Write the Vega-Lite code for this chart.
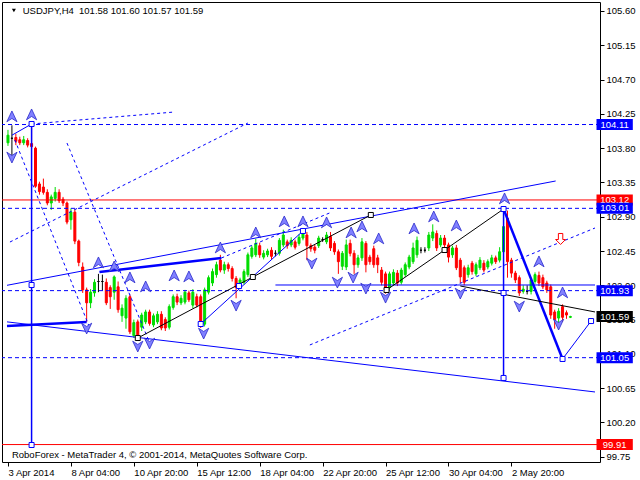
{
"$schema":"https://vega.github.io/schema/vega-lite/v6.json",
"width":598,"height":460,
"autosize":{"type":"none"},
"padding":{"left":2,"top":2,"right":40,"bottom":18},
"background":"white",
"config":{"view":{"stroke":"#000000","strokeWidth":1},"font":"Liberation Sans","axis":{"labelFont":"Liberation Sans","labelFontSize":9.5,"labelColor":"#000000","tickColor":"#000000","tickSize":4,"domain":false,"grid":false,"labelOverlap":false}},
"datasets":{
"candles":[
{"i":0,"o":103.87,"h":104.04,"l":103.83,"c":103.97},
{"i":1,"o":103.93,"h":104.10,"l":103.70,"c":103.93},
{"i":2,"o":103.94,"h":103.99,"l":103.84,"c":103.89},
{"i":3,"o":103.91,"h":103.95,"l":103.84,"c":103.87},
{"i":4,"o":103.87,"h":103.96,"l":103.84,"c":103.91},
{"i":5,"o":103.90,"h":103.93,"l":103.81,"c":103.84},
{"i":6,"o":103.86,"h":104.11,"l":103.79,"c":103.82},
{"i":7,"o":103.80,"h":103.82,"l":103.28,"c":103.30},
{"i":8,"o":103.33,"h":103.36,"l":103.19,"c":103.23},
{"i":9,"o":103.29,"h":103.40,"l":103.19,"c":103.22},
{"i":10,"o":103.22,"h":103.26,"l":103.05,"c":103.08},
{"i":11,"o":103.08,"h":103.19,"l":102.99,"c":103.16},
{"i":12,"o":103.14,"h":103.29,"l":103.10,"c":103.22},
{"i":13,"o":103.22,"h":103.26,"l":103.08,"c":103.11},
{"i":14,"o":103.13,"h":103.16,"l":103.04,"c":103.08},
{"i":15,"o":103.08,"h":103.10,"l":102.80,"c":102.83},
{"i":16,"o":102.86,"h":103.01,"l":102.73,"c":102.96},
{"i":17,"o":102.96,"h":103.00,"l":102.54,"c":102.58},
{"i":18,"o":102.58,"h":102.60,"l":102.25,"c":102.30},
{"i":19,"o":102.24,"h":102.30,"l":101.90,"c":101.94},
{"i":20,"o":101.94,"h":101.97,"l":101.52,"c":101.77},
{"i":21,"o":101.77,"h":101.95,"l":101.70,"c":101.91},
{"i":22,"o":101.90,"h":102.08,"l":101.85,"c":102.04},
{"i":23,"o":102.05,"h":102.15,"l":101.91,"c":102.05},
{"i":24,"o":102.05,"h":102.14,"l":101.93,"c":102.05},
{"i":25,"o":102.04,"h":102.09,"l":101.74,"c":101.77},
{"i":26,"o":101.97,"h":102.00,"l":101.69,"c":101.85},
{"i":27,"o":101.91,"h":102.13,"l":101.81,"c":102.11},
{"i":28,"o":101.98,"h":102.05,"l":101.64,"c":101.68},
{"i":29,"o":101.60,"h":101.75,"l":101.52,"c":101.70},
{"i":30,"o":101.57,"h":101.87,"l":101.43,"c":101.83},
{"i":31,"o":101.85,"h":101.88,"l":101.36,"c":101.39},
{"i":32,"o":101.34,"h":101.55,"l":101.31,"c":101.51},
{"i":33,"o":101.52,"h":101.55,"l":101.31,"c":101.34},
{"i":34,"o":101.45,"h":101.64,"l":101.40,"c":101.61},
{"i":35,"o":101.52,"h":101.68,"l":101.49,"c":101.65},
{"i":36,"o":101.65,"h":101.68,"l":101.47,"c":101.50},
{"i":37,"o":101.48,"h":101.63,"l":101.45,"c":101.60},
{"i":38,"o":101.52,"h":101.66,"l":101.49,"c":101.62},
{"i":39,"o":101.62,"h":101.66,"l":101.41,"c":101.44},
{"i":40,"o":101.55,"h":101.58,"l":101.40,"c":101.44},
{"i":41,"o":101.45,"h":101.75,"l":101.42,"c":101.72},
{"i":42,"o":101.71,"h":101.88,"l":101.68,"c":101.85},
{"i":43,"o":101.85,"h":101.89,"l":101.74,"c":101.78},
{"i":44,"o":101.77,"h":101.87,"l":101.74,"c":101.83},
{"i":45,"o":101.78,"h":101.94,"l":101.75,"c":101.91},
{"i":46,"o":101.90,"h":101.93,"l":101.78,"c":101.81},
{"i":47,"o":101.74,"h":101.95,"l":101.70,"c":101.91},
{"i":48,"o":101.85,"h":101.89,"l":101.71,"c":101.74},
{"i":49,"o":101.85,"h":101.88,"l":101.44,"c":101.50},
{"i":50,"o":101.49,"h":101.97,"l":101.46,"c":101.94},
{"i":51,"o":101.91,"h":102.13,"l":101.88,"c":102.10},
{"i":52,"o":102.03,"h":102.22,"l":101.99,"c":102.18},
{"i":53,"o":102.14,"h":102.31,"l":102.10,"c":102.27},
{"i":54,"o":102.33,"h":102.40,"l":102.17,"c":102.20},
{"i":55,"o":102.20,"h":102.31,"l":102.15,"c":102.27},
{"i":56,"o":102.27,"h":102.30,"l":102.18,"c":102.22},
{"i":57,"o":102.22,"h":102.25,"l":102.05,"c":102.09},
{"i":58,"o":102.09,"h":102.12,"l":101.83,"c":101.97},
{"i":59,"o":102.00,"h":102.10,"l":101.95,"c":102.07},
{"i":60,"o":102.04,"h":102.21,"l":102.01,"c":102.18},
{"i":61,"o":102.14,"h":102.43,"l":102.11,"c":102.40},
{"i":62,"o":102.38,"h":102.52,"l":102.35,"c":102.49},
{"i":63,"o":102.40,"h":102.61,"l":102.37,"c":102.55},
{"i":64,"o":102.52,"h":102.56,"l":102.36,"c":102.40},
{"i":65,"o":102.37,"h":102.46,"l":102.34,"c":102.42},
{"i":66,"o":102.40,"h":102.48,"l":102.37,"c":102.45},
{"i":67,"o":102.46,"h":102.50,"l":102.34,"c":102.38},
{"i":68,"o":102.42,"h":102.46,"l":102.38,"c":102.42},
{"i":69,"o":102.42,"h":102.62,"l":102.39,"c":102.59},
{"i":70,"o":102.53,"h":102.73,"l":102.50,"c":102.66},
{"i":71,"o":102.57,"h":102.60,"l":102.48,"c":102.52},
{"i":72,"o":102.53,"h":102.63,"l":102.50,"c":102.59},
{"i":73,"o":102.57,"h":102.60,"l":102.47,"c":102.50},
{"i":74,"o":102.55,"h":102.67,"l":102.52,"c":102.63},
{"i":75,"o":102.62,"h":102.74,"l":102.59,"c":102.70},
{"i":76,"o":102.66,"h":102.70,"l":102.33,"c":102.52},
{"i":77,"o":102.52,"h":102.55,"l":102.44,"c":102.48},
{"i":78,"o":102.50,"h":102.53,"l":102.42,"c":102.46},
{"i":79,"o":102.52,"h":102.65,"l":102.49,"c":102.62},
{"i":80,"o":102.60,"h":102.63,"l":102.57,"c":102.60},
{"i":81,"o":102.57,"h":102.70,"l":102.54,"c":102.66},
{"i":82,"o":102.64,"h":102.70,"l":102.45,"c":102.49},
{"i":83,"o":102.55,"h":102.58,"l":102.40,"c":102.44},
{"i":84,"o":102.44,"h":102.47,"l":102.15,"c":102.31},
{"i":85,"o":102.25,"h":102.45,"l":102.20,"c":102.42},
{"i":86,"o":102.24,"h":102.60,"l":102.20,"c":102.53},
{"i":87,"o":102.55,"h":102.60,"l":102.38,"c":102.42},
{"i":88,"o":102.42,"h":102.46,"l":102.15,"c":102.27},
{"i":89,"o":102.27,"h":102.40,"l":102.23,"c":102.36},
{"i":90,"o":102.36,"h":102.62,"l":102.32,"c":102.57},
{"i":91,"o":102.55,"h":102.58,"l":102.17,"c":102.27},
{"i":92,"o":102.37,"h":102.40,"l":102.27,"c":102.31},
{"i":93,"o":102.48,"h":102.52,"l":102.23,"c":102.27},
{"i":94,"o":102.36,"h":102.40,"l":102.16,"c":102.27},
{"i":95,"o":102.20,"h":102.24,"l":102.00,"c":102.04},
{"i":96,"o":102.15,"h":102.18,"l":101.89,"c":101.93},
{"i":97,"o":101.97,"h":102.18,"l":101.94,"c":102.15},
{"i":98,"o":102.03,"h":102.21,"l":102.00,"c":102.17},
{"i":99,"o":102.16,"h":102.20,"l":101.99,"c":102.03},
{"i":100,"o":102.04,"h":102.23,"l":102.01,"c":102.20},
{"i":101,"o":102.14,"h":102.30,"l":102.11,"c":102.27},
{"i":102,"o":102.24,"h":102.40,"l":102.21,"c":102.37},
{"i":103,"o":102.31,"h":102.56,"l":102.28,"c":102.49},
{"i":104,"o":102.40,"h":102.64,"l":102.36,"c":102.59},
{"i":105,"o":102.46,"h":102.50,"l":102.42,"c":102.46},
{"i":106,"o":102.46,"h":102.50,"l":102.43,"c":102.46},
{"i":107,"o":102.49,"h":102.70,"l":102.45,"c":102.66},
{"i":108,"o":102.62,"h":102.80,"l":102.58,"c":102.70},
{"i":109,"o":102.68,"h":102.72,"l":102.45,"c":102.49},
{"i":110,"o":102.53,"h":102.66,"l":102.50,"c":102.62},
{"i":111,"o":102.62,"h":102.66,"l":102.50,"c":102.53},
{"i":112,"o":102.53,"h":102.56,"l":102.30,"c":102.37},
{"i":113,"o":102.40,"h":102.52,"l":102.36,"c":102.49},
{"i":114,"o":102.49,"h":102.53,"l":102.20,"c":102.23},
{"i":115,"o":102.33,"h":102.36,"l":102.03,"c":102.11},
{"i":116,"o":102.23,"h":102.26,"l":102.00,"c":102.04},
{"i":117,"o":102.14,"h":102.27,"l":102.10,"c":102.23},
{"i":118,"o":102.29,"h":102.32,"l":102.14,"c":102.18},
{"i":119,"o":102.15,"h":102.30,"l":102.12,"c":102.27},
{"i":120,"o":102.23,"h":102.37,"l":102.20,"c":102.33},
{"i":121,"o":102.29,"h":102.33,"l":102.17,"c":102.20},
{"i":122,"o":102.24,"h":102.34,"l":102.21,"c":102.31},
{"i":123,"o":102.29,"h":102.40,"l":102.26,"c":102.36},
{"i":124,"o":102.36,"h":102.39,"l":102.28,"c":102.31},
{"i":125,"o":102.33,"h":102.50,"l":102.30,"c":102.44},
{"i":126,"o":102.44,"h":103.02,"l":102.41,"c":102.77},
{"i":127,"o":102.88,"h":102.98,"l":102.10,"c":102.31},
{"i":128,"o":102.33,"h":102.36,"l":102.10,"c":102.16},
{"i":129,"o":102.16,"h":102.19,"l":102.03,"c":102.07},
{"i":130,"o":102.10,"h":102.13,"l":101.86,"c":101.90},
{"i":131,"o":101.92,"h":102.00,"l":101.89,"c":101.95},
{"i":132,"o":101.92,"h":102.00,"l":101.88,"c":101.92},
{"i":133,"o":101.92,"h":102.10,"l":101.88,"c":102.07},
{"i":134,"o":102.05,"h":102.17,"l":102.02,"c":102.14},
{"i":135,"o":102.13,"h":102.18,"l":101.99,"c":102.03},
{"i":136,"o":102.10,"h":102.14,"l":101.95,"c":101.98},
{"i":137,"o":102.03,"h":102.06,"l":101.90,"c":101.94},
{"i":138,"o":101.98,"h":102.01,"l":101.56,"c":101.61},
{"i":139,"o":101.65,"h":101.68,"l":101.43,"c":101.55},
{"i":140,"o":101.57,"h":101.70,"l":101.46,"c":101.66},
{"i":141,"o":101.72,"h":101.75,"l":101.52,"c":101.58},
{"i":142,"o":101.64,"h":101.67,"l":101.56,"c":101.61},
{"i":143,"o":101.58,"h":101.60,"l":101.57,"c":101.59}
],
"blueLevels":[{"p":104.11},{"p":103.01},{"p":101.93},{"p":101.05}],
"redLevels":[{"p":103.12},{"p":99.91}],
"blackLevels":[{"p":101.59}],
"dashed":[
{"i":0.5,"p":102.568,"i2":61,"p2":104.130},
{"i":6,"p":104.117,"i2":42.25,"p2":104.274},
{"i":1.75,"p":103.907,"i2":20.5,"p2":101.478},
{"i":15,"p":103.867,"i2":36.25,"p2":101.217},
{"i":54.25,"p":102.358,"i2":81.75,"p2":102.949},
{"i":76.75,"p":101.217,"i2":149.25,"p2":102.752}
],
"thin":[
{"i":-0.25,"p":101.52,"i2":149.25,"p2":100.600},
{"i":-0.25,"p":102.00,"i2":139.25,"p2":103.369},
{"i":49,"p":101.492,"i2":75,"p2":102.713},
{"i":141,"p":101.033,"i2":148.25,"p2":101.531},
{"i":68,"p":102.004,"i2":149.25,"p2":102.004},
{"i":1,"p":103.97,"i2":6,"p2":104.117}
],
"thick":[
{"i":23.25,"p":102.175,"i2":54.25,"p2":102.358},
{"i":-0.25,"p":101.466,"i2":20,"p2":101.518},
{"i":126,"p":103.001,"i2":141,"p2":101.033}
],
"vert":[
{"i":126,"p":103.001,"i2":126,"p2":100.784},
{"i":6,"p":104.117,"i2":6,"p2":99.904}
],
"black":[
{"i":33,"p":101.308,"i2":62.25,"p2":102.109},
{"i":62.25,"p":102.109,"i2":92.25,"p2":102.923},
{"i":96.25,"p":101.938,"i2":111,"p2":102.463},
{"i":111,"p":102.463,"i2":126,"p2":103.001},
{"i":115,"p":101.991,"i2":149.25,"p2":101.650}
],
"up":[
{"i":1,"p":104.209},{"i":6,"p":104.235},{"i":23,"p":102.293},{"i":27,"p":102.240},{"i":31,"p":102.096},{"i":35,"p":101.978},{"i":42.25,"p":102.122},{"i":46,"p":102.109},{"i":54,"p":102.489},{"i":63,"p":102.686},{"i":70.25,"p":102.831},{"i":75,"p":102.831},{"i":81,"p":102.818},{"i":87.25,"p":102.686},{"i":90,"p":102.765},{"i":94.25,"p":102.608},{"i":103.25,"p":102.739},{"i":108.25,"p":102.896},{"i":114,"p":102.778},{"i":126.25,"p":103.133},{"i":135,"p":102.306},{"i":141,"p":101.899}
],
"down":[
{"i":1,"p":103.684},{"i":20,"p":101.440},{"i":33,"p":101.204},{"i":36,"p":101.243},{"i":49.75,"p":101.374},{"i":58,"p":101.741},{"i":77.25,"p":102.293},{"i":83.75,"p":102.043},{"i":87.75,"p":102.109},{"i":91,"p":101.965},{"i":96,"p":101.846},{"i":115,"p":101.899},{"i":130,"p":101.728},{"i":140,"p":101.492}
],
"blueSquares":[
{"i":6,"p":104.117},{"i":6,"p":102.004},{"i":6,"p":99.904},{"i":126,"p":103.001},{"i":126,"p":101.899},{"i":126,"p":100.784},{"i":141,"p":101.033},{"i":148.25,"p":101.531},{"i":75,"p":102.713},{"i":49,"p":101.492},{"i":58.75,"p":101.991}
],
"blackSquares":[
{"i":33,"p":101.308},{"i":62.25,"p":102.109},{"i":92.25,"p":102.923},{"i":96.25,"p":101.938},{"i":111,"p":102.463}
],
"redArrow":[{"i":140.5,"p":102.608}]
},
"layer":[
{"data":{"name":"candles"},"mark":{"type":"rule","strokeWidth":1,"clip":true},
 "encoding":{
 "x":{"field":"i","type":"quantitative","title":null,"scale":{"domain":[-0.25,149.25],"nice":false,"zero":false},
  "axis":{"orient":"bottom","values":[0,16,32,48,64,80,96,112,128],"tickCount":40,"labelExpr":"['3 Apr 2014','8 Apr 04:00','10 Apr 20:00','15 Apr 12:00','18 Apr 04:00','22 Apr 20:00','25 Apr 12:00','30 Apr 04:00','2 May 20:00'][round(datum.value/16)]","labelAlign":"left","labelBaseline":"top","labelPadding":1,"tickSize":4,"labelFlush":false,"labelOverlap":false,"title":null,"grid":false,"domain":false}},
 "y":{"field":"l","type":"quantitative","title":null,"scale":{"domain":[99.681,105.718],"nice":false,"zero":false},
  "axis":{"orient":"right","values":[105.60,105.15,104.70,104.25,103.80,103.35,102.90,102.45,102.00,101.55,101.10,100.65,100.20,99.75],"tickCount":40,"format":".2f","labelPadding":2,"labelBaseline":"middle","tickSize":4,"labelFlush":false,"labelOverlap":false,"title":null,"grid":false,"domain":false}},
 "y2":{"field":"h"},
 "color":{"condition":[{"test":"datum.c==datum.o","value":"#000000"},{"test":"datum.c>datum.o","value":"#00dd00"}],"value":"#ff0000"}}},
{"data":{"name":"candles"},"mark":{"type":"bar","width":2,"strokeWidth":1,"clip":true},
 "encoding":{"x":{"field":"i","type":"quantitative","title":null},"y":{"field":"o","type":"quantitative","title":null},"y2":{"field":"c"},
 "fill":{"condition":[{"test":"datum.c==datum.o","value":"#000000"},{"test":"datum.c>datum.o","value":"#00dd00"}],"value":"#ff0000"},
 "stroke":{"condition":[{"test":"datum.c==datum.o","value":"#000000"},{"test":"datum.c>datum.o","value":"#00dd00"}],"value":"#ff0000"}}},
{"data":{"name":"blueLevels"},"mark":{"type":"rule","color":"#0000ff","strokeWidth":1,"strokeDash":[4,3]},
 "encoding":{"y":{"field":"p","type":"quantitative","title":null}}},
{"data":{"name":"redLevels"},"mark":{"type":"rule","color":"#ff0000","strokeWidth":1},
 "encoding":{"y":{"field":"p","type":"quantitative","title":null}}},
{"data":{"name":"dashed"},"mark":{"type":"rule","color":"#0000ff","strokeWidth":1,"strokeDash":[3,3],"clip":true},
 "encoding":{"x":{"field":"i","type":"quantitative","title":null},"y":{"field":"p","type":"quantitative","title":null},"x2":{"field":"i2"},"y2":{"field":"p2"}}},
{"data":{"name":"thin"},"mark":{"type":"rule","color":"#0000ff","strokeWidth":1,"clip":true},
 "encoding":{"x":{"field":"i","type":"quantitative","title":null},"y":{"field":"p","type":"quantitative","title":null},"x2":{"field":"i2"},"y2":{"field":"p2"}}},
{"data":{"name":"thick"},"mark":{"type":"rule","color":"#0000ff","strokeWidth":2.5,"clip":true},
 "encoding":{"x":{"field":"i","type":"quantitative","title":null},"y":{"field":"p","type":"quantitative","title":null},"x2":{"field":"i2"},"y2":{"field":"p2"}}},
{"data":{"name":"vert"},"mark":{"type":"rule","color":"#0000ff","strokeWidth":1.5,"clip":true},
 "encoding":{"x":{"field":"i","type":"quantitative","title":null},"y":{"field":"p","type":"quantitative","title":null},"x2":{"field":"i2"},"y2":{"field":"p2"}}},
{"data":{"name":"black"},"mark":{"type":"rule","color":"#000000","strokeWidth":1,"clip":true},
 "encoding":{"x":{"field":"i","type":"quantitative","title":null},"y":{"field":"p","type":"quantitative","title":null},"x2":{"field":"i2"},"y2":{"field":"p2"}}},
{"data":{"name":"up"},"mark":{"type":"point","shape":"M0,-1L0.85,0.8L0,0.25L-0.85,0.8Z","size":144,"filled":true,"fill":"#8080ff","stroke":"#2a2acc","strokeWidth":0.8,"opacity":1},
 "encoding":{"x":{"field":"i","type":"quantitative","title":null},"y":{"field":"p","type":"quantitative","title":null}}},
{"data":{"name":"down"},"mark":{"type":"point","shape":"M0,1L0.85,-0.8L0,-0.25L-0.85,-0.8Z","size":144,"filled":true,"fill":"#8080ff","stroke":"#2a2acc","strokeWidth":0.8,"opacity":1},
 "encoding":{"x":{"field":"i","type":"quantitative","title":null},"y":{"field":"p","type":"quantitative","title":null}}},
{"data":{"name":"blueSquares"},"mark":{"type":"point","shape":"square","size":25,"filled":true,"fill":"#ffffff","stroke":"#0000ff","strokeWidth":1,"opacity":1},
 "encoding":{"x":{"field":"i","type":"quantitative","title":null},"y":{"field":"p","type":"quantitative","title":null}}},
{"data":{"name":"blackSquares"},"mark":{"type":"point","shape":"square","size":25,"filled":true,"fill":"#ffffff","stroke":"#000000","strokeWidth":1,"opacity":1},
 "encoding":{"x":{"field":"i","type":"quantitative","title":null},"y":{"field":"p","type":"quantitative","title":null}}},
{"data":{"name":"redArrow"},"mark":{"type":"point","shape":"M-0.4,-1H0.4V0.1H0.9L0,1L-0.9,0.1H-0.4Z","size":121,"filled":true,"fill":"#ffffff","stroke":"#ff0000","strokeWidth":1,"opacity":1},
 "encoding":{"x":{"field":"i","type":"quantitative","title":null},"y":{"field":"p","type":"quantitative","title":null}}},
{"data":{"values":[{"t":"USDJPY,H4\u00a0 101.58 101.60 101.57 101.59"}]},"mark":{"type":"text","align":"left","baseline":"middle","fontSize":9.5,"font":"Liberation Sans","color":"#000000"},
 "encoding":{"x":{"datum":3.75,"type":"quantitative","title":null},"y":{"datum":105.606,"type":"quantitative","title":null},"text":{"field":"t"}}},
{"data":{"values":[{"t":"v"}]},"mark":{"type":"point","shape":"triangle-down","size":16,"filled":true,"color":"#000000","opacity":1},
 "encoding":{"x":{"datum":1.5,"type":"quantitative","title":null},"y":{"datum":105.606,"type":"quantitative","title":null}}},
{"data":{"values":[{"t":"RoboForex - MetaTrader 4, © 2001-2014, MetaQuotes Software Corp."}]},"mark":{"type":"text","align":"left","baseline":"middle","fontSize":9.5,"font":"Liberation Sans","color":"#000000"},
 "encoding":{"x":{"datum":1,"type":"quantitative","title":null},"y":{"datum":99.773,"type":"quantitative","title":null},"text":{"field":"t"}}},
{"data":{"name":"redLevels"},"mark":{"type":"point","shape":"M-3.3,-1H3.3V1H-3.3Z","size":121,"filled":true,"fill":"#ff0000","strokeWidth":0,"opacity":1},
 "encoding":{"x":{"datum":154.25,"type":"quantitative","title":null},"y":{"field":"p","type":"quantitative","title":null}}},
{"data":{"name":"redLevels"},"mark":{"type":"text","align":"center","baseline":"middle","fontSize":9.5,"font":"Liberation Sans","color":"#ffffff"},
 "encoding":{"x":{"datum":154.25,"type":"quantitative","title":null},"y":{"field":"p","type":"quantitative","title":null},"text":{"field":"p","type":"quantitative","format":".2f"}}},
{"data":{"name":"blueLevels"},"mark":{"type":"point","shape":"M-3.3,-1H3.3V1H-3.3Z","size":121,"filled":true,"fill":"#0000ff","strokeWidth":0,"opacity":1},
 "encoding":{"x":{"datum":154.25,"type":"quantitative","title":null},"y":{"field":"p","type":"quantitative","title":null}}},
{"data":{"name":"blueLevels"},"mark":{"type":"text","align":"center","baseline":"middle","fontSize":9.5,"font":"Liberation Sans","color":"#ffffff"},
 "encoding":{"x":{"datum":154.25,"type":"quantitative","title":null},"y":{"field":"p","type":"quantitative","title":null},"text":{"field":"p","type":"quantitative","format":".2f"}}},
{"data":{"name":"blackLevels"},"mark":{"type":"point","shape":"M-3.3,-1H3.3V1H-3.3Z","size":121,"filled":true,"fill":"#000000","strokeWidth":0,"opacity":1},
 "encoding":{"x":{"datum":154.25,"type":"quantitative","title":null},"y":{"field":"p","type":"quantitative","title":null}}},
{"data":{"name":"blackLevels"},"mark":{"type":"text","align":"center","baseline":"middle","fontSize":9.5,"font":"Liberation Sans","color":"#ffffff"},
 "encoding":{"x":{"datum":154.25,"type":"quantitative","title":null},"y":{"field":"p","type":"quantitative","title":null},"text":{"field":"p","type":"quantitative","format":".2f"}}}
]
}
